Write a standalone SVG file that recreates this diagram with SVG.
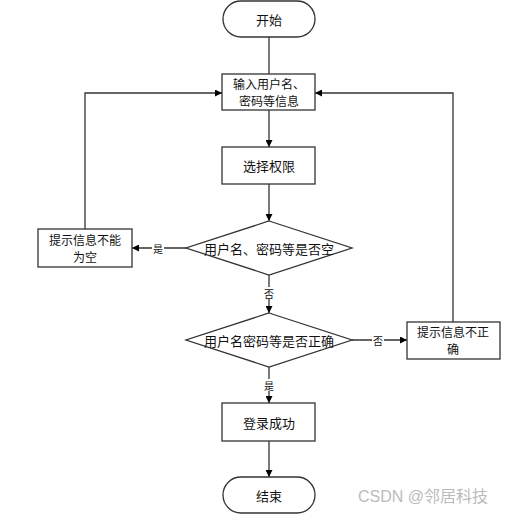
<svg xmlns="http://www.w3.org/2000/svg" width="511" height="518" viewBox="0 0 511 518">
<defs>
<style>
.s{fill:#fff;stroke:#333;stroke-width:1.3}
.t{font-family:"Noto Sans CJK SC","Noto Sans CJK JP",sans-serif;font-size:13px;fill:#111;text-anchor:middle;dominant-baseline:central}
.t2{font-family:"Noto Sans CJK SC","Noto Sans CJK JP",sans-serif;font-size:12px;fill:#111;text-anchor:middle;dominant-baseline:central}
.l{font-family:"Noto Sans CJK SC",sans-serif;font-size:10px;fill:#111;text-anchor:middle;dominant-baseline:central}
.c{fill:none;stroke:#333;stroke-width:1.3}
</style>
<marker id="a" viewBox="0 0 10 10" refX="10" refY="5" markerWidth="7" markerHeight="7" markerUnits="userSpaceOnUse" orient="auto"><path d="M0,0L10,5L0,10z" fill="#000"/></marker>
</defs>
<rect width="511" height="518" fill="#fff"/>
<g id="connectors">
<path class="c" d="M269,37V74" />
<path class="c" d="M269,110V147" marker-end="url(#a)"/>
<path class="c" d="M269,184V221" marker-end="url(#a)"/>
<path class="c" d="M186,248H132" marker-end="url(#a)"/>
<path class="c" d="M85,229V93H222" marker-end="url(#a)"/>
<path class="c" d="M269,275V313" marker-end="url(#a)"/>
<path class="c" d="M352,340H407" marker-end="url(#a)"/>
<path class="c" d="M453,322V93H315" marker-end="url(#a)"/>
<path class="c" d="M269,367V403" marker-end="url(#a)"/>
<path class="c" d="M269,441V477" marker-end="url(#a)"/>
<rect x="152" y="242" width="12" height="12" fill="#fff"/>
<text class="l" x="158" y="248">是</text>
<rect x="263" y="287" width="12" height="12" fill="#fff"/>
<text class="l" x="269" y="293">否</text>
<rect x="372" y="334" width="12" height="12" fill="#fff"/>
<text class="l" x="378" y="340">否</text>
<rect x="263" y="379" width="12" height="12" fill="#fff"/>
<text class="l" x="269" y="385">是</text>
</g>
<g id="start"><rect class="s" x="223" y="1" width="92" height="36" rx="18"/><text class="t" x="269" y="19">开始</text></g>
<g id="input"><rect class="s" x="222" y="74" width="93" height="36"/><text class="t2" x="269" y="83.5">输入用户名、</text><text class="t2" x="269" y="100.5">密码等信息</text></g>
<g id="role"><rect class="s" x="222" y="147" width="93" height="37"/><text class="t" x="269" y="165.5">选择权限</text></g>
<g id="empty"><path class="s" d="M269,221L352,248L269,275L186,248Z"/><text class="t" x="269" y="248">用户名、密码等是否空</text></g>
<g id="msgEmpty"><rect class="s" x="38" y="229" width="94" height="38"/><text class="t2" x="85" y="239.5">提示信息不能</text><text class="t2" x="85" y="256.5">为空</text></g>
<g id="correct"><path class="s" d="M269,313L352,340L269,367L186,340Z"/><text class="t" x="269" y="340">用户名密码等是否正确</text></g>
<g id="msgWrong"><rect class="s" x="407" y="322" width="93" height="37"/><text class="t2" x="453" y="331.5">提示信息不正</text><text class="t2" x="453" y="348.5">确</text></g>
<g id="success"><rect class="s" x="222" y="403" width="93" height="38"/><text class="t" x="269" y="422">登录成功</text></g>
<g id="end"><rect class="s" x="223" y="477" width="92" height="36" rx="18"/><text class="t" x="269" y="495">结束</text></g>
<text x="358" y="502" font-family="'Liberation Sans','Noto Sans CJK SC',sans-serif" font-size="16" fill="#bbb">CSDN @邻居科技</text>
</svg>
